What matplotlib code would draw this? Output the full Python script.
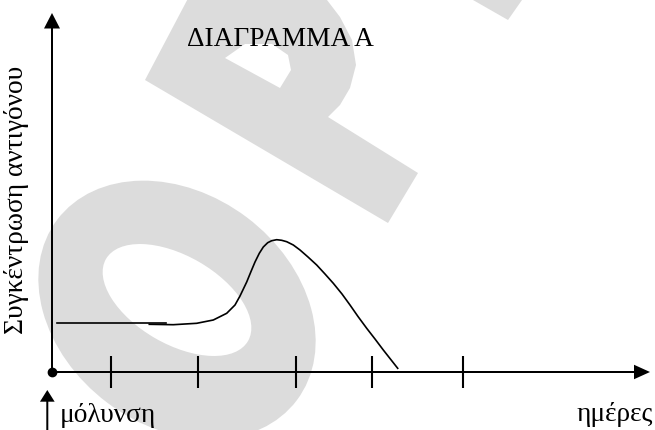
import numpy as np
import matplotlib
matplotlib.use('Agg')
import matplotlib.pyplot as plt
import matplotlib.patches as patches

# curve of antigen concentration (x: days scale, y: concentration), axis units
flat_x = [0.5, 11.4]
flat_y = [4.9, 4.9]

curve_x = [9.73, 12.13, 14.47, 16.13, 17.47, 18.3, 18.8, 19.47, 19.9, 20.3,
           20.73, 21.13, 21.57, 21.97, 22.47, 22.97, 23.47, 24.13, 24.8, 25.6,
           26.47, 27.3, 28.13, 29.0, 29.8, 30.6, 31.47, 32.3, 33.13, 34.57]
curve_y = [4.77, 4.73, 4.87, 5.2, 5.87, 6.7, 7.6, 9.0, 10.05, 11.0,
           11.87, 12.5, 12.93, 13.13, 13.23, 13.17, 13.03, 12.7, 12.2, 11.5,
           10.7, 9.8, 8.87, 7.8, 6.7, 5.55, 4.37, 3.3, 2.2, 0.37]

tick_x = [5.9, 14.55, 24.35, 32.0, 41.13]

title = 'ΔΙΑΓΡΑΜΜΑ Α'
ylabel = 'Συγκέντρωση αντιγόνου'
xlabel = 'ημέρες'
start_label = 'μόλυνση'

# watermark shapes (pixel space of the page)
wm_color = '#dcdcdc'
p_outline = [(145, 80), (388, 223), (418, 173), (328, 117), (340, 105), (350, 88),
             (356, 65), (352, 40), (340, 17), (327, 0), (322, -30), (203, -30)]
p_counter = [(225, 58), (245, 44), (272, 44), (288, 55), (291, 70), (280, 88)]
third_piece = [(455.5, -10), (508, 20), (529, -10)]

fig = plt.figure(figsize=(6.55, 4.3), dpi=100)

# background watermark
bg = fig.add_axes([0, 0, 1, 1])
bg.set_xlim(0, 655)
bg.set_ylim(430, 0)
bg.axis('off')
bg.add_patch(patches.Ellipse((177, 310), 300, 232, angle=37, facecolor=wm_color, edgecolor='none'))
bg.add_patch(patches.Ellipse((177, 300), 164, 88, angle=30, facecolor='white', edgecolor='none'))
bg.add_patch(patches.Polygon(p_outline, closed=True, facecolor=wm_color, edgecolor='none'))
bg.add_patch(patches.Polygon(p_counter, closed=True, facecolor='white', edgecolor='none'))
bg.add_patch(patches.Polygon(third_piece, closed=True, facecolor=wm_color, edgecolor='none'))

ax = fig.add_axes([0, 0, 1, 1])
ax.patch.set_alpha(0)
ax.set_xlim(-5.2, 60.3)
ax.set_ylim(-5.8, 37.2)
ax.axis('off')

# axes with arrow heads
ax.arrow(0, 0, 59.8, 0, width=0.2, head_width=1.45, head_length=1.6,
         length_includes_head=True, color='black', lw=0)
ax.arrow(0, 0, 0, 35.9, width=0.2, head_width=1.6, head_length=1.55,
         length_includes_head=True, color='black', lw=0)
ax.plot([0], [0], 'o', color='black', markersize=6)

for t in tick_x:
    ax.plot([t, t], [-1.6, 1.6], color='black', lw=1.5, solid_capstyle='butt')

ax.plot(flat_x, flat_y, color='black', lw=1.2)
ax.plot(curve_x, curve_y, color='black', lw=1.2, solid_joinstyle='round')

# infection arrow
ax.arrow(-0.47, -5.8, 0, 4.0, width=0.2, head_width=1.47, head_length=1.17,
         length_includes_head=True, color='black', lw=0)

serif = 'Liberation Serif'
fs = 19.7
ax.text(13.5, 32.63, title, fontfamily=serif, fontsize=fs, ha='left', va='baseline')
ax.text(0.8, -4.95, start_label, fontfamily=serif, fontsize=fs, ha='left', va='baseline')
ax.text(60.1, -4.9, xlabel, fontfamily=serif, fontsize=fs, ha='right', va='baseline')
ax.text(-2.87, 17.2, ylabel, fontfamily=serif, fontsize=fs, rotation=90,
        rotation_mode='anchor', ha='center', va='baseline')

fig.savefig('out.png', dpi=100)
